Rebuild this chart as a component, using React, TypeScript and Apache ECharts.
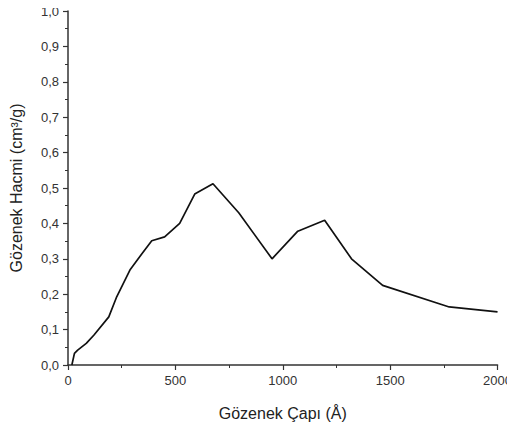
import React, { useEffect, useRef } from "react";
import * as echarts from "echarts";

const poreDiameter = [18, 30, 45, 85, 120, 190, 225, 290, 345, 390, 450, 520, 590, 675, 795, 950, 1070, 1195, 1320, 1465, 1775, 2000];
const poreVolume = [0.0, 0.033, 0.042, 0.061, 0.084, 0.136, 0.19, 0.27, 0.315, 0.351, 0.362, 0.4, 0.483, 0.512, 0.43, 0.3, 0.378, 0.409, 0.3, 0.225, 0.164, 0.15];
const xTitle = "Gözenek Çapı (Å)";
const yTitle = "Gözenek Hacmi (cm³/g)";

export default function App() {
  const ref = useRef<HTMLDivElement>(null);
  useEffect(() => {
    if (!ref.current) return;
    const chart = echarts.init(ref.current, null, { renderer: "svg" });
    const font = "Liberation Sans, Arial, sans-serif";
    const axisColor = "#333";
    chart.setOption({
      animation: false,
      backgroundColor: "#fff",
      grid: { left: 67, right: 13, top: 11, bottom: 65, containLabel: false },
      xAxis: {
        type: "value",
        min: 0,
        max: 2000,
        interval: 500,
        name: xTitle,
        nameLocation: "middle",
        nameGap: 40,
        nameTextStyle: { fontFamily: font, fontSize: 16, color: "#222" },
        axisLine: { show: true, onZero: false, lineStyle: { color: axisColor, width: 1.5 } },
        axisTick: { show: true, inside: false, length: 5, lineStyle: { color: axisColor, width: 1.2 } },
        minorTick: { show: true, splitNumber: 2, length: 3, lineStyle: { color: axisColor, width: 1 } },
        splitLine: { show: false },
        axisLabel: { fontFamily: font, fontSize: 13, color: "#333", margin: 9, formatter: (v: number) => String(v) },
      },
      yAxis: {
        type: "value",
        min: 0,
        max: 1,
        interval: 0.1,
        name: yTitle,
        nameLocation: "middle",
        nameGap: 44,
        nameTextStyle: { fontFamily: font, fontSize: 16, color: "#222" },
        axisLine: { show: true, onZero: false, lineStyle: { color: axisColor, width: 1.5 } },
        axisTick: { show: true, inside: false, length: 5, lineStyle: { color: axisColor, width: 1.2 } },
        minorTick: { show: true, splitNumber: 2, length: 3, lineStyle: { color: axisColor, width: 1 } },
        splitLine: { show: false },
        axisLabel: {
          fontFamily: font,
          fontSize: 13,
          color: "#333",
          margin: 9,
          formatter: (v: number) => v.toFixed(1).replace(".", ","),
        },
      },
      series: [
        {
          type: "line",
          data: poreDiameter.map((x, i) => [x, poreVolume[i]]),
          showSymbol: false,
          symbol: "none",
          lineStyle: { color: "#111", width: 1.7 },
        },
      ],
    });
    return () => chart.dispose();
  }, []);
  return <div ref={ref} style={{ width: 515, height: 430, margin: -8 }} />;
}
